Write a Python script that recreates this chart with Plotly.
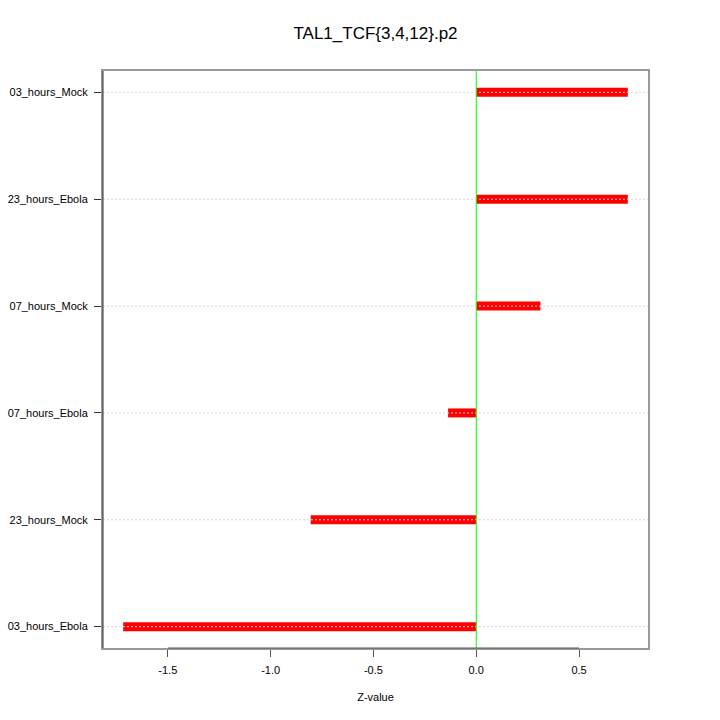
import plotly.graph_objects as go

# categories bottom -> top
conditions = ['03_hours_Ebola', '23_hours_Mock', '07_hours_Ebola',
              '07_hours_Mock', '23_hours_Ebola', '03_hours_Mock']
z_values = [-1.717, -0.805, -0.137, 0.312, 0.737, 0.737]
x_ticks = [-1.5, -1.0, -0.5, 0.0, 0.5]

# R-style 4% padding around data
lo, hi = min(z_values + [0]), max(z_values + [0])
pad = (hi - lo) * 0.04
x_range = [lo - pad, hi + pad]

bar_x, bar_y = [], []
for cond, val in zip(conditions, z_values):
    bar_x += [0, val, None]
    bar_y += [cond, cond, None]

fig = go.Figure()
fig.add_trace(go.Scatter(
    x=bar_x, y=bar_y, mode='lines',
    line=dict(color='#ff0000', width=9),
    showlegend=False, hoverinfo='skip'
))

shapes = []
# dotted guide lines drawn above the bars
for cond in conditions:
    shapes.append(dict(type='line', xref='paper', yref='y', x0=0, x1=1,
                       y0=cond, y1=cond, layer='above',
                       line=dict(color='#d6d6d6', width=1, dash='2px,2px')))
# zero line
shapes.append(dict(type='line', xref='x', yref='paper', x0=0, x1=0, y0=0, y1=1,
                   layer='above', line=dict(color='#00ff00', width=1)))
# left / bottom axis lines
shapes.append(dict(type='line', xref='paper', yref='paper', x0=0, x1=0, y0=0, y1=1,
                   layer='above', line=dict(color='#333333', width=1)))
shapes.append(dict(type='line', xref='x', yref='paper', x0=x_ticks[0], x1=x_ticks[-1],
                   y0=0, y1=0, layer='above', line=dict(color='#555555', width=1)))

fig.update_layout(
    width=720, height=720,
    paper_bgcolor='white', plot_bgcolor='white',
    margin=dict(l=103, r=72, t=71, b=72),
    font=dict(family='Liberation Sans, Arial, sans-serif', color='black', size=11),
    title=dict(text='TAL1_TCF{3,4,12}.p2', x=375.5 / 720, xanchor='center',
               y=1 - 33 / 720, yanchor='middle',
               font=dict(size=17, color='black')),
    shapes=shapes,
    showlegend=False
)

fig.update_xaxes(
    range=x_range, tickvals=x_ticks, ticktext=[f'{t:.1f}' for t in x_ticks],
    showgrid=False, zeroline=False, automargin=False,
    showline=True, linecolor='#999999', linewidth=2, mirror=True,
    ticks='outside', ticklen=7, tickcolor='#555555',
    ticklabelstandoff=4,
    tickfont=dict(size=11),
    title=dict(text='Z-value', font=dict(size=11), standoff=18)
)
fig.update_yaxes(
    type='category', categoryorder='array', categoryarray=conditions,
    range=[-0.2, len(conditions) - 0.8],
    showgrid=False, zeroline=False, automargin=False,
    showline=True, linecolor='#999999', linewidth=2, mirror=True,
    ticks='outside', ticklen=7, tickcolor='#333333',
    ticklabelstandoff=4,
    tickfont=dict(size=11)
)

# drop the default 8px body margin so the figure sits at the page origin
fig.write_html('out.html', config={'displayModeBar': False},
               post_script="document.body.style.margin='0';")
